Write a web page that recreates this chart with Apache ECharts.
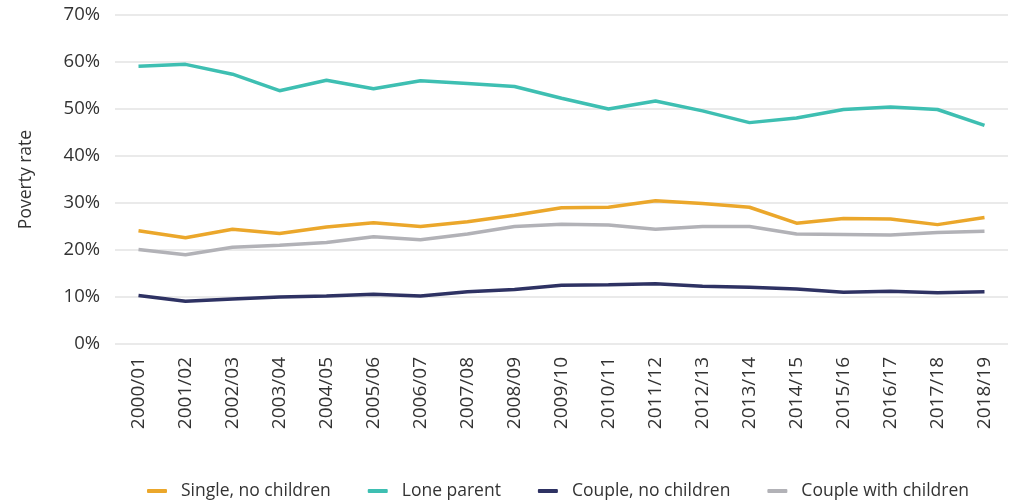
<!DOCTYPE html>
<html>
<head>
<meta charset="utf-8">
<script src="https://cdn.jsdelivr.net/npm/echarts@6/dist/echarts.min.js"></script>
<style>
html,body{margin:0;padding:0;background:#fff;}
#chart{width:1009px;height:503px;}
</style>
</head>
<body>
<div id="chart"></div>
<script>
const categories = ['2000/01','2001/02','2002/03','2003/04','2004/05','2005/06','2006/07','2007/08','2008/09','2009/10','2010/11','2011/12','2012/13','2013/14','2014/15','2015/16','2016/17','2017/18','2018/19'];
const singleNoChildren = [24.1,22.6,24.4,23.5,24.9,25.8,25.0,26.0,27.4,29.0,29.1,30.5,29.9,29.1,25.7,26.7,26.6,25.4,26.9];
const loneParent = [59.1,59.5,57.4,53.9,56.1,54.3,56.0,55.4,54.8,52.3,50.0,51.7,49.6,47.1,48.1,49.9,50.4,49.9,46.5];
const coupleNoChildren = [10.3,9.1,9.6,10.0,10.2,10.6,10.2,11.1,11.6,12.5,12.6,12.8,12.3,12.1,11.7,11.0,11.2,10.9,11.1];
const coupleWithChildren = [20.1,19.0,20.6,21.0,21.6,22.8,22.2,23.4,25.0,25.5,25.3,24.4,25.0,25.0,23.4,23.3,23.2,23.7,24.0];
const seriesNames = ['Single, no children','Lone parent','Couple, no children','Couple with children'];
const colors = ['#EBA72B','#3EBFB2','#2E3263','#B2B2B7'];

const font = '"Open Sans", "Noto Sans", sans-serif';
const chart = echarts.init(document.getElementById('chart'));
const dataSets = [singleNoChildren, loneParent, coupleNoChildren, coupleWithChildren];
chart.setOption({
  animation: false,
  color: colors,
  grid: {left: 115, right: 1, top: 15, bottom: 159, containLabel: false},
  legend: {
    data: seriesNames,
    top: 477,
    left: 142,
    icon: 'roundRect',
    itemWidth: 20,
    itemHeight: 4,
    itemGap: 37,
    textStyle: {fontFamily: font, fontSize: 17.5, color: '#333', padding: [0,0,0,9]}
  },
  xAxis: {
    type: 'category',
    data: categories,
    boundaryGap: true,
    axisLine: {show: false},
    axisTick: {show: false},
    axisLabel: {rotate: 90, margin: 13, fontFamily: font, fontSize: 19, color: '#333', interval: 0}
  },
  yAxis: {
    type: 'value',
    min: 0, max: 70, interval: 10,
    name: 'Poverty rate',
    nameLocation: 'middle',
    nameGap: 80,
    nameRotate: 90,
    nameTextStyle: {fontFamily: font, fontSize: 17.5, color: '#333'},
    axisLabel: {formatter: '{value}%', margin: 15, fontFamily: font, fontSize: 18.5, color: '#333'},
    splitLine: {lineStyle: {color: '#e3e3e3', width: 1.5}},
    axisLine: {show: false},
    axisTick: {show: false}
  },
  series: seriesNames.map((n, i) => ({
    name: n,
    type: 'line',
    data: dataSets[i],
    symbol: 'none',
    lineStyle: {width: 3.5, color: colors[i]},
    itemStyle: {color: colors[i]}
  }))
});
</script>
</body>
</html>
